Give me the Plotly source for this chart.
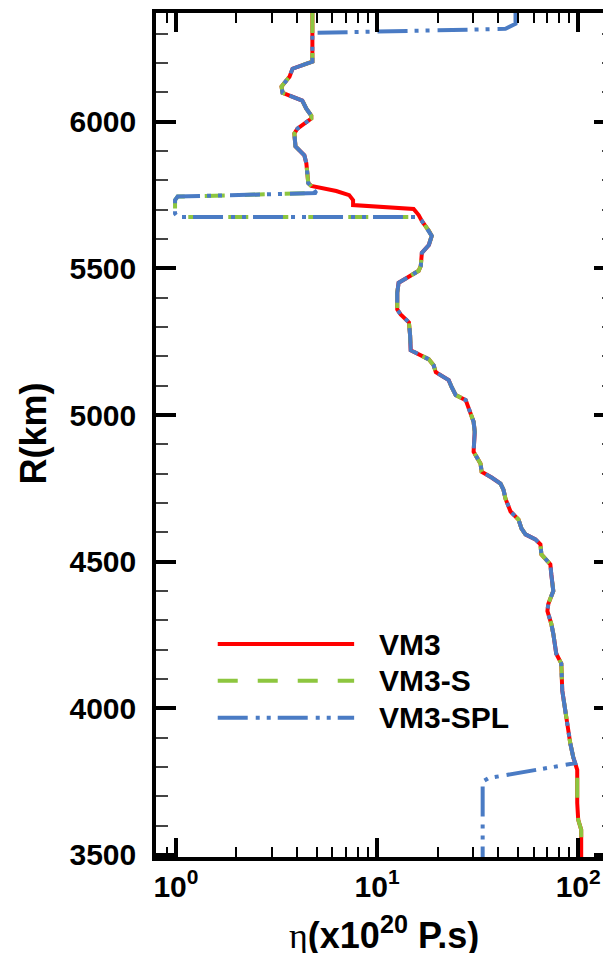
import plotly.graph_objects as go

# ---------------- data (R in km, viscosity eta in 1e20 Pa.s) ----------------
# top segment
R_TOP_VM3 = [6371]
ETA_TOP_VM3 = [4.77]
R_TOP_SPL = [6371, 6334, 6317, 6303]
ETA_TOP_SPL = [48.8, 48.8, 43.5, 4.77]

# shared upper-mantle profile
R_UPPER = [6205, 6181, 6154, 6120, 6099, 6072, 6045, 6021, 6011, 5977, 5960,
           5916, 5886, 5859, 5791, 5781]
ETA_UPPER = [4.77, 3.80, 3.67, 3.35, 3.39, 4.25, 4.45, 4.71, 4.71, 4.02, 3.88,
             3.93, 4.35, 4.45, 4.55, 4.71]

# transition-zone segment
R_MID_VM3 = [5764, 5750, 5733, 5716, 5703, 5682]
ETA_MID_VM3 = [6.27, 7.27, 7.6, 7.6, 15.2, 16.1]
R_MID_S = [5757, 5745, 5733, 5687, 5675, 5675]
ETA_MID_S = [4.99, 1.02, 0.99, 0.99, 1.02, 15.8]

# shared lower-mantle profile
R_LOWER = [5662, 5628, 5611, 5580, 5553, 5509, 5492, 5468, 5451, 5417, 5360,
           5343, 5316, 5272, 5221, 5190, 5170, 5146, 5119, 5095, 5068, 5051,
           5021, 4977, 4943, 4875, 4834, 4807, 4787, 4766, 4746, 4715, 4671,
           4644, 4614, 4593, 4576, 4559, 4525, 4491, 4457, 4410, 4400, 4356,
           4332, 4288, 4254, 4186, 4153, 4061, 3993, 3959, 3881, 3833, 3813]
ETA_LOWER = [16.7, 18.1, 18.7, 18.1, 16.7, 16.5, 16.1, 14.1, 12.8, 12.6, 12.6,
             13.1, 14.4, 14.6, 14.7, 18.1, 19.1, 19.6, 22.7, 23.5, 24.6, 27.6,
             28.5, 30.2, 30.6, 30.2, 32.7, 33.1, 37.1, 41.1, 42.5, 43.5, 46.1,
             50.5, 52.2, 54.7, 61.3, 64.9, 65.6, 72.7, 73.5, 75.2, 75.2, 71.0,
             70.3, 73.5, 75.2, 77.8, 82.4, 83.3, 86.2, 88.3, 91.3, 94.5, 96.7]

# bottom segment
R_BOT_VM3 = [3790, 3677, 3620, 3586, 3493]
ETA_BOT_VM3 = [98.9, 98.9, 100, 103.5, 103.5]
R_BOT_SPL = [3762, 3750, 3493]
ETA_BOT_SPL = [35.8, 33.5, 33.5]

SERIES = ["VM3", "VM3-S", "VM3-SPL"]
COLORS = ["#FF0000", "#8DC63F", "#4A7BC4"]
DASHES = ["solid", "20px,20px", "30px,8px,4px,7px,4px,7px"]

X_TICKVALS = [1, 10, 100]
X_TICKTEXT = ["10<sup>0</sup>", "10<sup>1</sup>", "10<sup>2</sup>"]
X_MINOR = [0.8, 0.9, 2, 3, 4, 5, 6, 7, 8, 9, 20, 30, 40, 50, 60, 70, 80, 90]
Y_TICKVALS = [3500, 4000, 4500, 5000, 5500, 6000]

# ---------------- assemble series ----------------
r_vm3 = R_TOP_VM3 + R_UPPER + R_MID_VM3 + R_LOWER + R_BOT_VM3
e_vm3 = ETA_TOP_VM3 + ETA_UPPER + ETA_MID_VM3 + ETA_LOWER + ETA_BOT_VM3
r_s = R_TOP_VM3 + R_UPPER + R_MID_S + R_LOWER + R_BOT_VM3
e_s = ETA_TOP_VM3 + ETA_UPPER + ETA_MID_S + ETA_LOWER + ETA_BOT_VM3
r_spl = R_TOP_SPL + R_UPPER + R_MID_S + R_LOWER + R_BOT_SPL
e_spl = ETA_TOP_SPL + ETA_UPPER + ETA_MID_S + ETA_LOWER + ETA_BOT_SPL
data = [(e_vm3, r_vm3), (e_s, r_s), (e_spl, r_spl)]

FONT = "Liberation Sans, Arial, sans-serif"

fig = go.Figure()
for (xs, ys), name, col, dash in zip(data, SERIES, COLORS, DASHES):
    fig.add_trace(go.Scatter(x=xs, y=ys, mode="lines", name=name,
                             line=dict(color=col, width=4, dash=dash),
                             showlegend=False, hoverinfo="skip"))

# the page body has an 8px margin: positions below are page pixels minus 8
OFF = 8
W, H = 611, 953
L, R, T, B = 148, 3, 1, 104
pw, ph = W - L - R, H - T - B


def px(x):
    return (x - OFF - L) / pw


def py(y):
    return (H - B - (y - OFF)) / ph


tickfont = dict(family=FONT, size=30, color="black", weight="bold")

fig.update_layout(
    width=W, height=H,
    margin=dict(l=L, r=R, t=T, b=B, pad=0),
    paper_bgcolor="white", plot_bgcolor="white",
    showlegend=False,
    xaxis=dict(type="log", range=[-0.099, 2.178], showline=True,
               linewidth=3.5, linecolor="black", mirror="ticks",
               ticks="inside", ticklen=19, tickwidth=3.5, tickcolor="black",
               tickmode="array", tickvals=X_TICKVALS, ticktext=X_TICKTEXT,
               tickfont=tickfont, showgrid=False, zeroline=False,
               minor=dict(tickmode="array", tickvals=X_MINOR, ticks="inside",
                          ticklen=10, tickwidth=1.5, tickcolor="black",
                          showgrid=False)),
    yaxis=dict(range=[3493, 6371], showline=True, linewidth=3.5,
               linecolor="black", mirror="ticks", ticks="inside", ticklen=20,
               tickwidth=4, tickcolor="black", tickmode="array",
               tickvals=Y_TICKVALS, tickfont=tickfont, showgrid=False,
               zeroline=False, ticklabelstandoff=10,
               minor=dict(dtick=100, tick0=3500, ticks="inside", ticklen=12,
                          tickwidth=1.5, tickcolor="#444", showgrid=False)),
)

# axis titles
fig.add_annotation(xref="paper", yref="paper", x=px(385), y=py(933),
                   xanchor="center", yanchor="middle", showarrow=False,
                   text="<span style=\"font-family:'Liberation Serif';font-weight:normal\">η</span>(x10<sup>20</sup> P.s)",
                   font=dict(family=FONT, size=36, color="black", weight="bold"))
fig.add_annotation(xref="paper", yref="paper", x=px(32), y=py(432),
                   xanchor="center", yanchor="middle", showarrow=False,
                   textangle=-90, text="R(km)",
                   font=dict(family=FONT, size=36, color="black", weight="bold"))

# legend drawn manually
LEG_Y = [643, 680, 717]
for name, col, dash, ly in zip(SERIES, COLORS, DASHES, LEG_Y):
    fig.add_shape(type="line", xref="paper", yref="paper",
                  x0=px(218), x1=px(355), y0=py(ly), y1=py(ly),
                  line=dict(color=col, width=4, dash=dash))
    fig.add_annotation(xref="paper", yref="paper", x=px(378), y=py(ly),
                       xanchor="left", yanchor="middle", showarrow=False,
                       text=name,
                       font=dict(family=FONT, size=30, color="black",
                                 weight="bold"))

fig.write_html("out.html")
